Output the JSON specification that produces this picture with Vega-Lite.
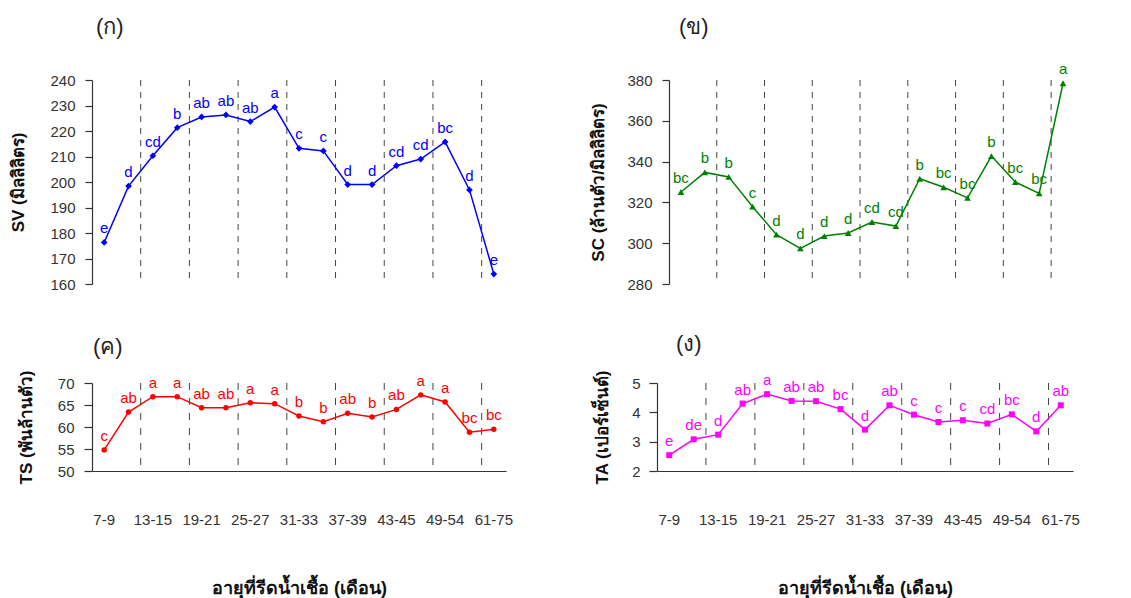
{
  "$schema": "https://vega.github.io/schema/vega-lite/v6.json",
  "autosize": {"type": "none"},
  "padding": {"left": 92, "top": 80, "right": 1039, "bottom": 518},
  "background": "white",
  "data": {
    "values": [
      {"age": "7-9", "sv": 176.3, "sv_g": "e", "sc": 325.1, "sc_g": "bc", "ts": 54.8, "ts_g": "c", "ta": 2.54, "ta_g": "e"},
      {"age": "10-12", "sv": 198.4, "sv_g": "d", "sc": 334.7, "sc_g": "b", "ts": 63.4, "ts_g": "ab", "ta": 3.08, "ta_g": "de"},
      {"age": "13-15", "sv": 210.3, "sv_g": "cd", "sc": 332.5, "sc_g": "b", "ts": 66.9, "ts_g": "a", "ta": 3.24, "ta_g": "d"},
      {"age": "16-18", "sv": 221.3, "sv_g": "b", "sc": 317.9, "sc_g": "c", "ts": 66.9, "ts_g": "a", "ta": 4.30, "ta_g": "ab"},
      {"age": "19-21", "sv": 225.5, "sv_g": "ab", "sc": 304.2, "sc_g": "d", "ts": 64.4, "ts_g": "ab", "ta": 4.62, "ta_g": "a"},
      {"age": "22-24", "sv": 226.3, "sv_g": "ab", "sc": 297.5, "sc_g": "d", "ts": 64.4, "ts_g": "ab", "ta": 4.39, "ta_g": "ab"},
      {"age": "25-27", "sv": 223.7, "sv_g": "ab", "sc": 303.5, "sc_g": "d", "ts": 65.5, "ts_g": "a", "ta": 4.38, "ta_g": "ab"},
      {"age": "28-30", "sv": 229.4, "sv_g": "a", "sc": 305.0, "sc_g": "d", "ts": 65.3, "ts_g": "a", "ta": 4.11, "ta_g": "bc"},
      {"age": "31-33", "sv": 213.2, "sv_g": "c", "sc": 310.4, "sc_g": "cd", "ts": 62.5, "ts_g": "b", "ta": 3.41, "ta_g": "d"},
      {"age": "34-36", "sv": 212.2, "sv_g": "c", "sc": 308.4, "sc_g": "cd", "ts": 61.2, "ts_g": "b", "ta": 4.24, "ta_g": "ab"},
      {"age": "37-39", "sv": 199.0, "sv_g": "d", "sc": 331.6, "sc_g": "b", "ts": 63.1, "ts_g": "ab", "ta": 3.92, "ta_g": "c"},
      {"age": "40-42", "sv": 199.0, "sv_g": "d", "sc": 327.4, "sc_g": "bc", "ts": 62.3, "ts_g": "b", "ta": 3.67, "ta_g": "c"},
      {"age": "43-45", "sv": 206.4, "sv_g": "cd", "sc": 322.2, "sc_g": "bc", "ts": 64.0, "ts_g": "ab", "ta": 3.73, "ta_g": "c"},
      {"age": "46-48", "sv": 209.0, "sv_g": "cd", "sc": 342.7, "sc_g": "b", "ts": 67.3, "ts_g": "a", "ta": 3.62, "ta_g": "cd"},
      {"age": "49-54", "sv": 215.7, "sv_g": "bc", "sc": 330.0, "sc_g": "bc", "ts": 65.7, "ts_g": "a", "ta": 3.93, "ta_g": "bc"},
      {"age": "55-60", "sv": 196.9, "sv_g": "d", "sc": 324.4, "sc_g": "bc", "ts": 58.8, "ts_g": "bc", "ta": 3.35, "ta_g": "d"},
      {"age": "61-75", "sv": 163.9, "sv_g": "e", "sc": 378.4, "sc_g": "a", "ts": 59.5, "ts_g": "bc", "ta": 4.24, "ta_g": "ab"}
    ]
  },
  "config": {
    "view": {"stroke": null},
    "font": "Liberation Sans",
    "axis": {
      "grid": false,
      "labelOverlap": false,
      "domainColor": "#333333",
      "tickColor": "#333333",
      "labelColor": "#333333",
      "titleColor": "#111111",
      "labelFont": "Liberation Sans",
      "labelFontSize": 15,
      "titleFontSize": 17,
      "titleFontWeight": "bold",
      "domainWidth": 1.2,
      "tickWidth": 1.2
    },
    "title": {"fontSize": 22, "fontWeight": "normal", "anchor": "start", "frame": "group", "color": "#222222"},
    "text": {"fontSize": 15, "baseline": "alphabetic", "dy": -9}
  },
  "spacing": 303,
  "bounds": "flush",
  "vconcat": [
    {
      "spacing": 163,
      "bounds": "flush",
      "hconcat": [
        {
          "width": 414,
          "height": 204,
          "title": {"text": "(ก)", "dx": 4, "offset": 34},
          "encoding": {
            "x": {"field": "age", "type": "nominal",
                  "scale": {"type": "band", "paddingInner": 0, "paddingOuter": 0,
                            "domain": ["7-9","10-12","13-15","16-18","19-21","22-24","25-27","28-30","31-33","34-36","37-39","40-42","43-45","46-48","49-54","55-60","61-75"]},
                  "axis": null}
          },
          "layer": [
            {
              "transform": [{"filter": {"field": "age", "oneOf": ["13-15","19-21","25-27","31-33","37-39","43-45","49-54","61-75"]}}],
              "mark": {"type": "rule", "color": "#444444", "strokeWidth": 1, "strokeDash": [6, 6]},
              "encoding": {"x": {"field": "age", "type": "nominal", "bandPosition": 0}}
            },
            {
              "encoding": {
                "y": {"field": "sv", "type": "quantitative",
                      "scale": {"domain": [160, 240], "nice": false, "zero": false},
                      "axis": {"values": [160,170,180,190,200,210,220,230,240], "tickSize": 7, "labelPadding": 10,
                               "title": "SV (มิลลิลิตร)", "titleX": -74, "titleY": 102, "titleBaseline": "middle"}}
              },
              "layer": [
                {"mark": {"type": "line", "color": "#0000FF", "strokeWidth": 1.5}},
                {"mark": {"type": "point", "shape": "diamond", "filled": true, "size": 45, "color": "#0000FF", "opacity": 1}},
                {"mark": {"type": "text", "color": "#0000FF"}, "encoding": {"text": {"field": "sv_g", "type": "nominal"}}}
              ]
            }
          ]
        },
        {
          "width": 406,
          "height": 204,
          "title": {"text": "(ข)", "dx": 10, "offset": 23},
          "encoding": {
            "x": {"field": "age", "type": "nominal",
                  "scale": {"type": "band", "paddingInner": 0, "paddingOuter": 0,
                            "domain": ["7-9","10-12","13-15","16-18","19-21","22-24","25-27","28-30","31-33","34-36","37-39","40-42","43-45","46-48","49-54","55-60","61-75"]},
                  "axis": null}
          },
          "layer": [
            {
              "transform": [{"filter": {"field": "age", "oneOf": ["13-15","19-21","25-27","31-33","37-39","43-45","49-54","61-75"]}}],
              "mark": {"type": "rule", "color": "#444444", "strokeWidth": 1, "strokeDash": [6, 6]},
              "encoding": {"x": {"field": "age", "type": "nominal", "bandPosition": 0}}
            },
            {
              "encoding": {
                "y": {"field": "sc", "type": "quantitative",
                      "scale": {"domain": [280, 380], "nice": false, "zero": false},
                      "axis": {"values": [280,300,320,340,360,380], "tickSize": 7, "labelPadding": 10,
                               "title": "SC (ล้านตัว/มิลลิลิตร)", "titleX": -71, "titleY": 102, "titleBaseline": "middle"}}
              },
              "layer": [
                {"mark": {"type": "line", "color": "#008000", "strokeWidth": 1.5}},
                {"mark": {"type": "point", "shape": "triangle-up", "filled": true, "size": 45, "color": "#008000", "opacity": 1}},
                {"mark": {"type": "text", "color": "#008000"}, "encoding": {"text": {"field": "sc_g", "type": "nominal"}}}
              ]
            }
          ]
        }
      ]
    },
    {
      "spacing": 151,
      "bounds": "flush",
      "hconcat": [
        {
          "width": 414,
          "height": 88,
          "title": {"text": "(ค)", "dx": 1, "offset": 11},
          "encoding": {
            "x": {"field": "age", "type": "nominal",
                  "scale": {"type": "band", "paddingInner": 0, "paddingOuter": 0,
                            "domain": ["7-9","10-12","13-15","16-18","19-21","22-24","25-27","28-30","31-33","34-36","37-39","40-42","43-45","46-48","49-54","55-60","61-75"]},
                  "axis": {"values": ["7-9","13-15","19-21","25-27","31-33","37-39","43-45","49-54","61-75"],
                           "ticks": false, "tickSize": 0, "labelPadding": 41, "labelAngle": 0,
                           "title": "อายุที่รีดน้ำเชื้อ (เดือน)", "titleFontSize": 18, "titleY": 122, "titleBaseline": "alphabetic"}}
          },
          "layer": [
            {
              "transform": [{"filter": {"field": "age", "oneOf": ["13-15","19-21","25-27","31-33","37-39","43-45","49-54","61-75"]}}],
              "mark": {"type": "rule", "color": "#444444", "strokeWidth": 1, "strokeDash": [7, 8]},
              "encoding": {"x": {"field": "age", "type": "nominal", "bandPosition": 0}}
            },
            {
              "encoding": {
                "y": {"field": "ts", "type": "quantitative",
                      "scale": {"domain": [50, 70], "nice": false, "zero": false},
                      "axis": {"values": [50,55,60,65,70], "tickSize": 8, "labelPadding": 10,
                               "title": "TS (พันล้านตัว)", "titleX": -66, "titleY": 44, "titleBaseline": "middle"}}
              },
              "layer": [
                {"mark": {"type": "line", "color": "#FF0000", "strokeWidth": 1.5}},
                {"mark": {"type": "point", "shape": "circle", "filled": true, "size": 30, "color": "#FF0000", "opacity": 1}},
                {"mark": {"type": "text", "color": "#FF0000"}, "encoding": {"text": {"field": "ts_g", "type": "nominal"}}}
              ]
            }
          ]
        },
        {
          "width": 416,
          "height": 88,
          "title": {"text": "(ง)", "dx": 19, "offset": 14},
          "encoding": {
            "x": {"field": "age", "type": "nominal",
                  "scale": {"type": "band", "paddingInner": 0, "paddingOuter": 0,
                            "domain": ["7-9","10-12","13-15","16-18","19-21","22-24","25-27","28-30","31-33","34-36","37-39","40-42","43-45","46-48","49-54","55-60","61-75"]},
                  "axis": {"values": ["7-9","13-15","19-21","25-27","31-33","37-39","43-45","49-54","61-75"],
                           "ticks": false, "tickSize": 0, "labelPadding": 41, "labelAngle": 0,
                           "title": "อายุที่รีดน้ำเชื้อ (เดือน)", "titleFontSize": 18, "titleY": 122, "titleBaseline": "alphabetic"}}
          },
          "layer": [
            {
              "transform": [{"filter": {"field": "age", "oneOf": ["13-15","19-21","25-27","31-33","37-39","43-45","49-54","61-75"]}}],
              "mark": {"type": "rule", "color": "#444444", "strokeWidth": 1, "strokeDash": [7, 8]},
              "encoding": {"x": {"field": "age", "type": "nominal", "bandPosition": 0}}
            },
            {
              "encoding": {
                "y": {"field": "ta", "type": "quantitative",
                      "scale": {"domain": [2, 5], "nice": false, "zero": false},
                      "axis": {"values": [2,3,4,5], "tickSize": 8, "labelPadding": 9,
                               "title": "TA (เปอร์เซ็นต์)", "titleX": -55, "titleY": 44, "titleBaseline": "middle"}}
              },
              "layer": [
                {"mark": {"type": "line", "color": "#FF00FF", "strokeWidth": 1.5}},
                {"mark": {"type": "point", "shape": "square", "filled": true, "size": 36, "color": "#FF00FF", "opacity": 1}},
                {"mark": {"type": "text", "color": "#FF00FF"}, "encoding": {"text": {"field": "ta_g", "type": "nominal"}}}
              ]
            }
          ]
        }
      ]
    }
  ]
}
